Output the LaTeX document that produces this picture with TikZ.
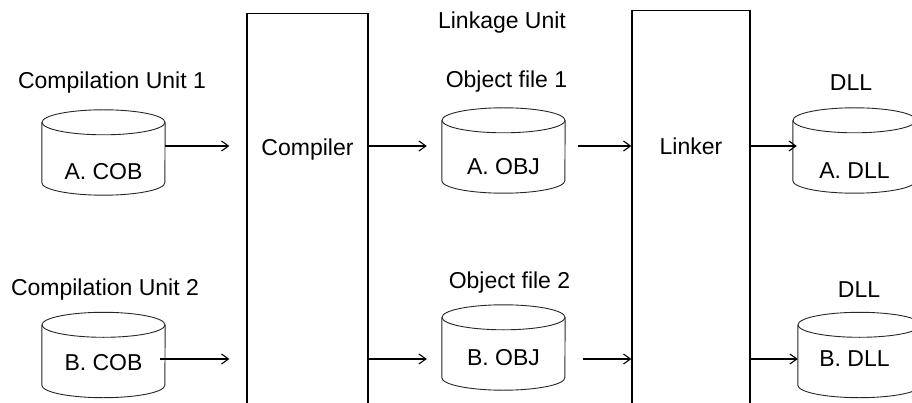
\documentclass[tikz,border=0pt]{standalone}
\usepackage{fontspec}
\setmainfont{Liberation Sans}
\usetikzlibrary{arrows.meta,positioning}
\tikzset{
  db/.style={minimum width=123pt,minimum height=85pt,inner sep=0pt},
  dbline/.style={line width=0.9pt,black!85},
  stage/.style={draw,line width=1.2pt,minimum width=121pt,minimum height=430pt,
                anchor=north,inner sep=0pt},
  arr/.style={-{Straight Barb[length=7pt,width=10pt]},line width=1.1pt}
}

\begin{document}
\begin{tikzpicture}[x=1pt,y=-1pt,every node/.style={font=\fontsize{23}{27}\selectfont}]
  \useasboundingbox (0,0) rectangle (912,403);
  \coordinate (r1) at (0,146);
  \coordinate (r2) at (0,359);
  % compiler and linker
  \node[stage] (comp) at (307.5,13) {};
  \node (compt) at (307.5,150) {Compiler};
  \node[stage,minimum width=118pt] (link) at (691,10) {};
  \node (linkt) at (691,146) {Linker};
  \node (unit) at (502,23) {Linkage Unit};
  % row 1
  \node[db,label={[yshift=-19pt]center:A. COB}] (acob) at (103.5,152.5) {};
  \node (cu1) at (112,83) {Compilation Unit 1};
  \node[db,label={[yshift=-16pt]center:A. OBJ}] (aobj) at (503.5,150.5) {};
  \node (of1) at (506.5,82) {Object file 1};
  \node[db,label={[yshift=-20pt]center:A. DLL}] (adll) at (854.5,150.5) {};
  \node (dll1) at (851,83) {DLL};
  % row 2
  \node[db,label={[yshift=-8pt]center:B. COB}] (bcob) at (103.5,355) {};
  \node (cu2) at (105,290) {Compilation Unit 2};
  \node[db,label={[yshift=-10pt]center:B. OBJ}] (bobj) at (503.5,347.5) {};
  \node (of2) at (509.5,283) {Object file 2};
  \node[db,label={[yshift=-4pt,xshift=-5pt]center:B. DLL}] (bdll) at (859.5,355) {};
  \node (dll2) at (859,290) {DLL};
  % cylinder outlines
  \foreach \n in {acob,aobj,adll,bcob,bobj,bdll}{
    \draw[dbline] ([yshift=-12.5pt]\n.north west) -- ([yshift=12.5pt]\n.south west)
      arc[start angle=180,end angle=360,x radius=61.5pt,y radius=12.5pt]
      -- ([yshift=-12.5pt]\n.north east);
    \draw[dbline] ([yshift=-12.5pt]\n.north) ellipse[x radius=61.5pt,y radius=12.5pt];
  }
  % arrows
  \draw[arr] (acob.east |- r1) -- ([xshift=-17]comp.west |- r1);
  \draw[arr] (comp.east |- r1) -- ([xshift=-15]aobj.west |- r1);
  \draw[arr] ([xshift=13]aobj.east |- r1) -- (link.west |- r1);
  \draw[arr] (link.east |- r1) -- ([xshift=4]adll.west |- r1);
  \draw[arr] ([xshift=-5]bcob.east |- r2) -- ([xshift=-17]comp.west |- r2);
  \draw[arr] (comp.east |- r2) -- ([xshift=-15]bobj.west |- r2);
  \draw[arr] ([xshift=18]bobj.east |- r2) -- (link.west |- r2);
  \draw[arr] (link.east |- r2) -- (bdll.west |- r2);
\end{tikzpicture}
\end{document}
